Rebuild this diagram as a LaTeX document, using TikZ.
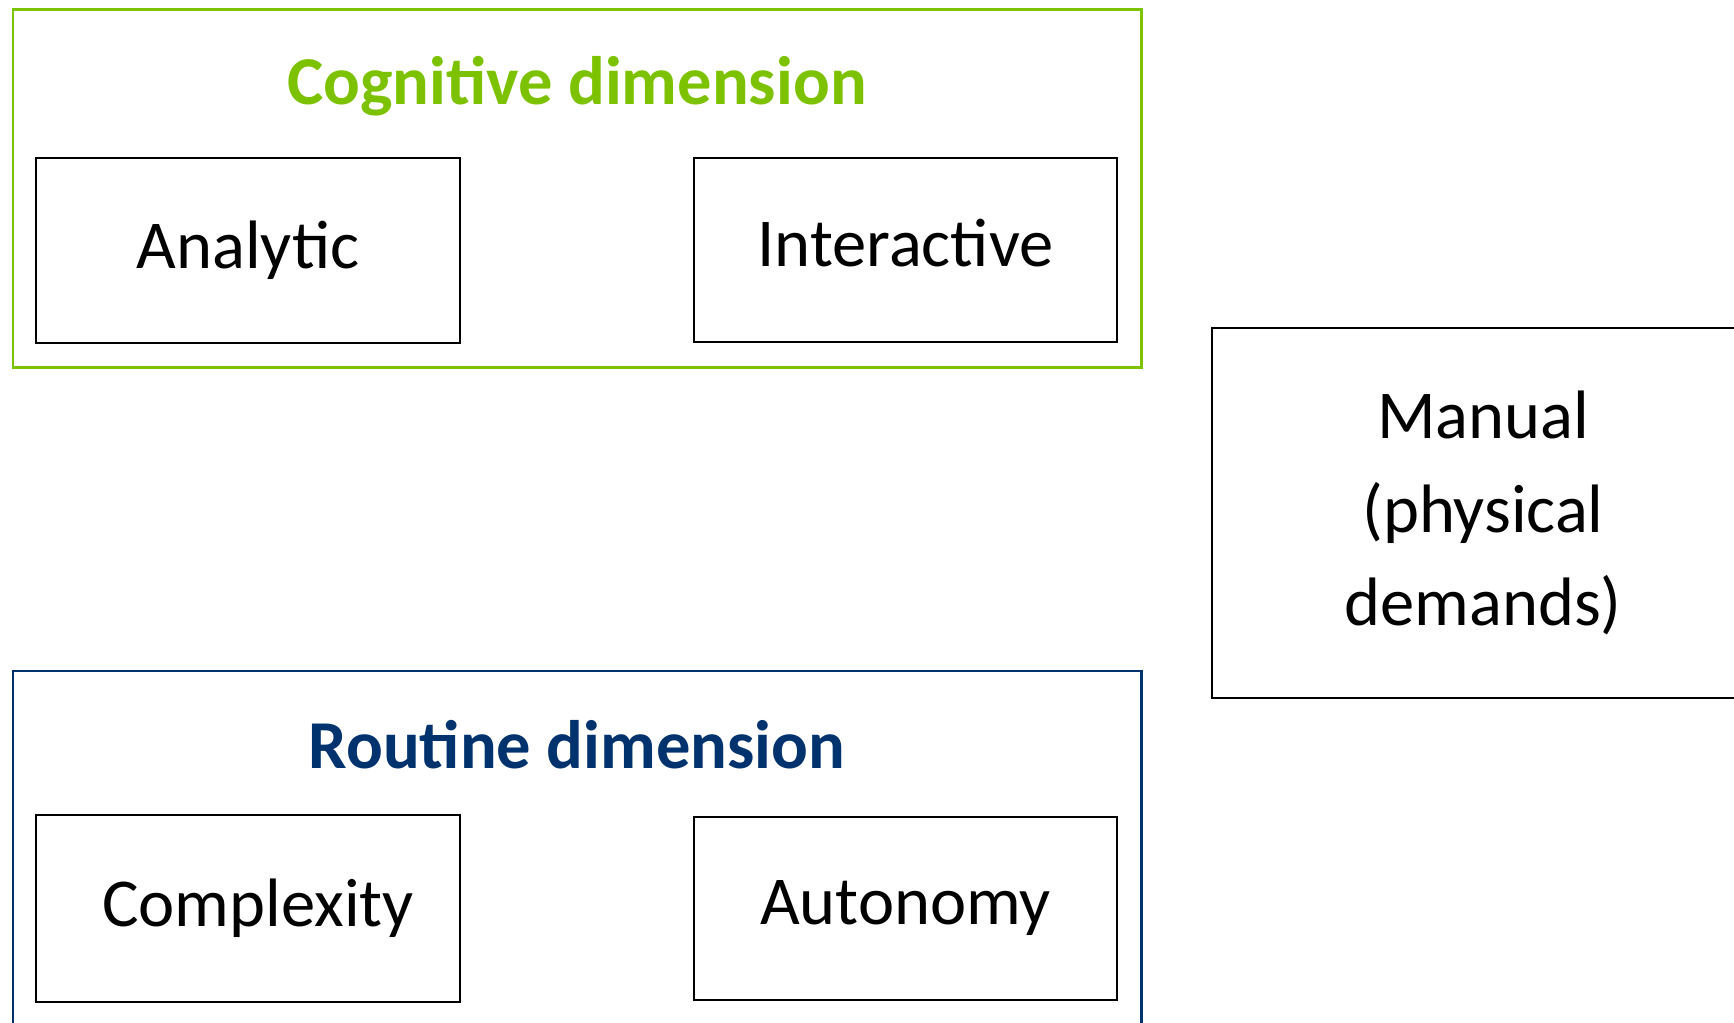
\documentclass[tikz,border=0pt]{standalone}
\usepackage{fontspec}
\setmainfont{Carlito}
\definecolor{cogGreen}{RGB}{125,194,0}
\definecolor{routBlue}{RGB}{0,50,110}
\begin{document}
\begin{tikzpicture}[inner sep=0pt,outer sep=0pt,
frame/.style={draw,rectangle,line width=1.7pt},
dimtitle/.style={anchor=base,font=\fontsize{39}{47}\selectfont\bfseries},
taskbox/.style={draw,rectangle,line width=1.1pt,font=\fontsize{39}{53}\selectfont,align=center}]
\useasboundingbox (0,0) rectangle (34.68,20.44);
% cognitive dimension
\draw (11.54,16.66) node[frame,cogGreen,minimum width=22.56cm,minimum height=7.16cm] (cog) {};
\draw (11.54,18.34) node[dimtitle,text=cogGreen] (cogtitle) {Cognitive dimension};
\draw (4.96,15.43) node[taskbox,minimum width=8.48cm,minimum height=3.70cm] (analytic) {Analytic};
\draw (18.11,15.44) node[taskbox,text depth=8pt,minimum width=8.46cm,minimum height=3.68cm] (interactive) {Interactive};
% manual
\draw (29.66,10.18) node[taskbox,minimum width=10.84cm,minimum height=7.40cm] (manual) {Manual\\(physical\\demands)};
% routine dimension
\draw (11.54,3.33) node[frame,routBlue,minimum width=22.56cm,minimum height=7.38cm] (rout) {};
\draw (11.54,5.06) node[dimtitle,text=routBlue] (routtitle) {Routine dimension};
\draw (4.96,2.27) node[taskbox,minimum width=8.48cm,minimum height=3.74cm] (complexity) {\hspace*{0.4cm}Complexity};
\draw (18.11,2.27) node[taskbox,minimum width=8.46cm,minimum height=3.66cm] (autonomy) {Autonomy};
\end{tikzpicture}
\end{document}
